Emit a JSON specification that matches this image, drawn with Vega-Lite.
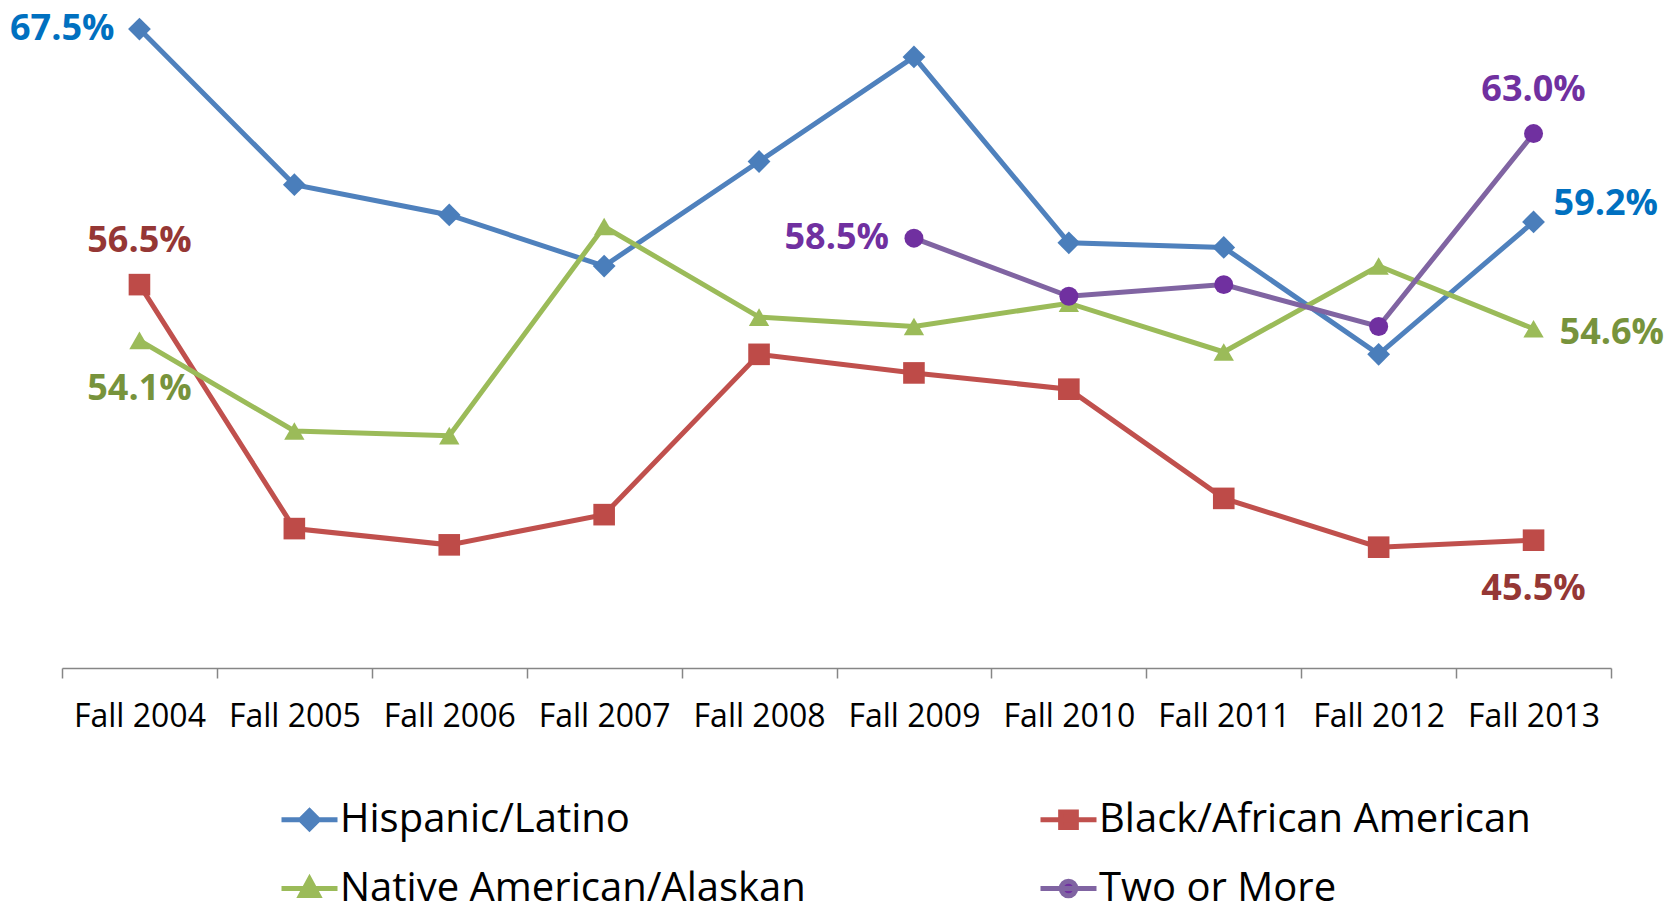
{
  "$schema": "https://vega.github.io/schema/vega-lite/v6.json",
  "width": 1549,
  "height": 668,
  "autosize": {"type": "none"},
  "padding": {"left": 62, "top": 0, "right": 56, "bottom": 245},
  "config": {"view": {"stroke": null}, "font": "Open Sans"},
  "data": {
    "values": [
      {"year": "Fall 2004", "group": "Hispanic/Latino", "rate": 0.675},
      {"year": "Fall 2005", "group": "Hispanic/Latino", "rate": 0.608},
      {"year": "Fall 2006", "group": "Hispanic/Latino", "rate": 0.595},
      {"year": "Fall 2007", "group": "Hispanic/Latino", "rate": 0.573},
      {"year": "Fall 2008", "group": "Hispanic/Latino", "rate": 0.618},
      {"year": "Fall 2009", "group": "Hispanic/Latino", "rate": 0.663},
      {"year": "Fall 2010", "group": "Hispanic/Latino", "rate": 0.583},
      {"year": "Fall 2011", "group": "Hispanic/Latino", "rate": 0.581},
      {"year": "Fall 2012", "group": "Hispanic/Latino", "rate": 0.535},
      {"year": "Fall 2013", "group": "Hispanic/Latino", "rate": 0.592},
      {"year": "Fall 2004", "group": "Black/African American", "rate": 0.565},
      {"year": "Fall 2005", "group": "Black/African American", "rate": 0.460},
      {"year": "Fall 2006", "group": "Black/African American", "rate": 0.453},
      {"year": "Fall 2007", "group": "Black/African American", "rate": 0.466},
      {"year": "Fall 2008", "group": "Black/African American", "rate": 0.535},
      {"year": "Fall 2009", "group": "Black/African American", "rate": 0.527},
      {"year": "Fall 2010", "group": "Black/African American", "rate": 0.520},
      {"year": "Fall 2011", "group": "Black/African American", "rate": 0.473},
      {"year": "Fall 2012", "group": "Black/African American", "rate": 0.452},
      {"year": "Fall 2013", "group": "Black/African American", "rate": 0.455},
      {"year": "Fall 2004", "group": "Native American/Alaskan", "rate": 0.541},
      {"year": "Fall 2005", "group": "Native American/Alaskan", "rate": 0.502},
      {"year": "Fall 2006", "group": "Native American/Alaskan", "rate": 0.500},
      {"year": "Fall 2007", "group": "Native American/Alaskan", "rate": 0.590},
      {"year": "Fall 2008", "group": "Native American/Alaskan", "rate": 0.551},
      {"year": "Fall 2009", "group": "Native American/Alaskan", "rate": 0.547},
      {"year": "Fall 2010", "group": "Native American/Alaskan", "rate": 0.557},
      {"year": "Fall 2011", "group": "Native American/Alaskan", "rate": 0.536},
      {"year": "Fall 2012", "group": "Native American/Alaskan", "rate": 0.573},
      {"year": "Fall 2013", "group": "Native American/Alaskan", "rate": 0.546},
      {"year": "Fall 2009", "group": "Two or More", "rate": 0.585},
      {"year": "Fall 2010", "group": "Two or More", "rate": 0.560},
      {"year": "Fall 2011", "group": "Two or More", "rate": 0.565},
      {"year": "Fall 2012", "group": "Two or More", "rate": 0.547},
      {"year": "Fall 2013", "group": "Two or More", "rate": 0.630}
    ]
  },
  "encoding": {
    "x": {
      "field": "year",
      "type": "ordinal",
      "sort": ["Fall 2004", "Fall 2005", "Fall 2006", "Fall 2007", "Fall 2008", "Fall 2009", "Fall 2010", "Fall 2011", "Fall 2012", "Fall 2013"],
      "scale": {"type": "band", "paddingInner": 0, "paddingOuter": 0},
      "axis": {
        "title": null,
        "labelAngle": 0,
        "tickBand": "extent",
        "grid": false,
        "domainColor": "#868686",
        "domainWidth": 1.5,
        "tickColor": "#868686",
        "tickWidth": 1.5,
        "tickSize": 10,
        "labelFont": "Open Sans",
        "labelFontSize": 32,
        "labelColor": "#000000",
        "labelPadding": 23
      }
    },
    "y": {
      "field": "rate",
      "type": "quantitative",
      "scale": {"domain": [0.40, 0.6875], "nice": false, "zero": false},
      "axis": null
    }
  },
  "layer": [
    {
      "layer": [
        {
          "mark": {"type": "line", "strokeWidth": 5},
          "encoding": {
            "color": {
              "field": "group",
              "type": "nominal",
              "scale": {
                "domain": ["Hispanic/Latino", "Black/African American", "Native American/Alaskan", "Two or More"],
                "range": ["#4F81BD", "#C0504D", "#9BBB59", "#8064A2"]
              },
              "legend": {
                "orient": "none",
                "direction": "horizontal",
                "legendX": 217,
                "legendY": 789,
                "columns": 2,
                "columnPadding": 224,
                "rowPadding": 18,
                "title": null,
                "padding": 0,
                "labelFont": "Open Sans",
                "labelFontSize": 40,
                "labelColor": "#000000",
                "labelOffset": 0,
                "labelLimit": 0,
                "symbolSize": 3136,
                "symbolStrokeWidth": 5,
                "encode": {
                  "symbols": {
                    "update": {
                      "shape": {"signal": "datum.value === 'Hispanic/Latino' ? 'M-1,0H1M0,-0.32L0.32,0L0,0.32L-0.32,0Z' : datum.value === 'Black/African American' ? 'M-1,0H1M-0.28,-0.28H0.28V0.28H-0.28Z' : datum.value === 'Native American/Alaskan' ? 'M-1,0H1M0,-0.34L0.32,0.25H-0.32Z' : 'M-1,0H1M-0.26,0A0.26,0.26,0,1,0,0.26,0A0.26,0.26,0,1,0,-0.26,0Z'"},
                      "fill": {"signal": "datum.value === 'Hispanic/Latino' ? '#4F81BD' : datum.value === 'Black/African American' ? '#C0504D' : datum.value === 'Native American/Alaskan' ? '#9BBB59' : '#7030A0'"},
                      "stroke": {"signal": "datum.value === 'Hispanic/Latino' ? '#4F81BD' : datum.value === 'Black/African American' ? '#C0504D' : datum.value === 'Native American/Alaskan' ? '#9BBB59' : '#8064A2'"},
                      "strokeWidth": {"value": 5},
                      "opacity": {"value": 1},
                      "fillOpacity": {"value": 1}
                    }
                  }
                }
              }
            }
          }
        },
        {
          "mark": {"type": "point", "filled": true, "opacity": 1, "strokeWidth": 1.5},
          "encoding": {
            "color": {
              "field": "group",
              "type": "nominal",
              "scale": {
                "domain": ["Hispanic/Latino", "Black/African American", "Native American/Alaskan", "Two or More"],
                "range": ["#4F81BD", "#C0504D", "#9BBB59", "#8064A2"]
              }
            },
            "fill": {
              "field": "group",
              "type": "nominal",
              "scale": {
                "domain": ["Hispanic/Latino", "Black/African American", "Native American/Alaskan", "Two or More"],
                "range": ["#4A7EBB", "#BE4B48", "#9BBB59", "#7030A0"]
              },
              "legend": null
            },
            "shape": {
              "field": "group",
              "type": "nominal",
              "scale": {
                "domain": ["Hispanic/Latino", "Black/African American", "Native American/Alaskan", "Two or More"],
                "range": ["diamond", "square", "triangle-up", "circle"]
              },
              "legend": null
            },
            "size": {
              "field": "group",
              "type": "nominal",
              "scale": {
                "domain": ["Hispanic/Latino", "Black/African American", "Native American/Alaskan", "Two or More"],
                "range": [520, 360, 420, 360]
              },
              "legend": null
            }
          }
        }
      ]
    },
    {
      "encoding": {
        "text": {"field": "rate", "type": "quantitative", "format": ".1%"},
        "color": {
          "field": "group",
          "type": "nominal",
          "scale": {
            "domain": ["Hispanic/Latino", "Black/African American", "Native American/Alaskan", "Two or More"],
            "range": ["#0070C0", "#953735", "#77933C", "#7030A0"]
          },
          "legend": null
        }
      },
      "layer": [
        {
          "transform": [{"filter": "(datum.group === 'Hispanic/Latino' && datum.year === 'Fall 2004') || (datum.group === 'Two or More' && datum.year === 'Fall 2009')"}],
          "mark": {"type": "text", "fontWeight": "bold", "fontSize": 36, "align": "right", "baseline": "middle", "dx": -25}
        },
        {
          "transform": [{"filter": "(datum.group === 'Black/African American' && datum.year === 'Fall 2004') || (datum.group === 'Two or More' && datum.year === 'Fall 2013')"}],
          "mark": {"type": "text", "fontWeight": "bold", "fontSize": 36, "align": "center", "baseline": "middle", "dy": -44}
        },
        {
          "transform": [{"filter": "(datum.group === 'Native American/Alaskan' && datum.year === 'Fall 2004') || (datum.group === 'Black/African American' && datum.year === 'Fall 2013')"}],
          "mark": {"type": "text", "fontWeight": "bold", "fontSize": 36, "align": "center", "baseline": "middle", "dy": 49}
        },
        {
          "transform": [{"filter": "datum.group === 'Hispanic/Latino' && datum.year === 'Fall 2013'"}],
          "mark": {"type": "text", "fontWeight": "bold", "fontSize": 36, "align": "left", "baseline": "middle", "dx": 20, "dy": -18}
        },
        {
          "transform": [{"filter": "datum.group === 'Native American/Alaskan' && datum.year === 'Fall 2013'"}],
          "mark": {"type": "text", "fontWeight": "bold", "fontSize": 36, "align": "left", "baseline": "middle", "dx": 26, "dy": 4}
        }
      ]
    }
  ],
  "resolve": {"scale": {"color": "independent"}}
}
